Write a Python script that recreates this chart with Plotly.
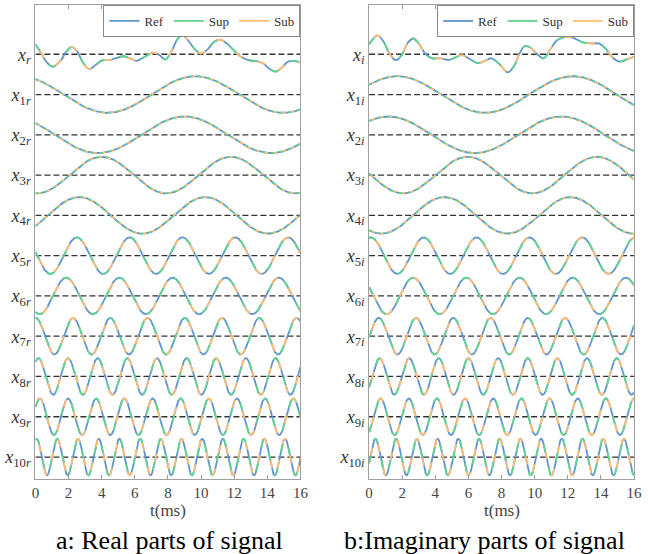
import numpy as np
import plotly.graph_objects as go

# ---------------- data ----------------
# composite real part x_r (time in ms, value in component-amplitude units)
t_xr = [0.0, 0.36, 0.66, 1.05, 1.55, 1.85, 2.2, 2.54, 2.84, 3.24, 3.63, 4.03, 4.43, 4.82,
        5.32, 5.72, 6.11, 6.61, 7.1, 7.5, 7.84, 8.2, 8.6, 8.89, 9.29, 9.68, 9.98, 10.38,
        10.78, 11.17, 11.57, 11.97, 12.36, 12.86, 13.36, 13.75, 14.15, 14.5, 14.84, 15.24,
        15.64, 16.0]
v_xr = [0.54, 0.04, -0.41, -0.68, -0.32, 0.13, 0.40, 0.13, -0.41, -0.81, -0.59, -0.34,
        -0.32, -0.23, -0.11, -0.23, -0.36, -0.14, 0.09, -0.05, -0.29, 0.13, 0.85, 1.03,
        0.67, 0.22, 0.04, 0.25, 0.67, 0.79, 0.58, 0.22, -0.11, -0.32, -0.38, -0.50, -0.81,
        -0.95, -0.77, -0.41, -0.36, -0.45]
# composite imaginary part x_i
t_xi = [0.0, 0.5, 0.85, 1.25, 1.6, 1.94, 2.34, 2.67, 3.03, 3.42, 3.82, 4.31, 4.81, 5.2,
        5.6, 6.09, 6.59, 7.08, 7.38, 7.87, 8.37, 8.76, 9.06, 9.4, 9.75, 10.15, 10.54,
        10.94, 11.34, 11.83, 12.33, 12.82, 13.42, 13.91, 14.31, 14.7, 15.1, 15.6, 16.0]
v_xi = [0.54, 1.03, 0.72, 0.0, -0.32, -0.09, 0.63, 0.86, 0.54, 0.0, -0.22, -0.22, -0.31,
        -0.18, -0.05, -0.27, -0.49, -0.32, -0.22, -0.54, -0.99, -0.63, 0.0, 0.45, 0.36,
        0.0, -0.22, 0.27, 0.76, 0.94, 0.90, 0.68, 0.59, 0.58, 0.27, -0.18, -0.40, -0.27,
        -0.14]
# sinusoidal components x_1 .. x_10 : period (ms) and time of the real-part peak (ms)
periods = [10.6, 10.45, 7.8, 7.6, 3.19, 3.21, 2.25, 1.79, 1.70, 1.25]
peak_times = [9.65, 9.0, 4.0, 2.65, 2.5, 1.86, 0.02, 0.18, 0.27, 0.07]

real_labels = ["<i>x</i><sub><i>r</i></sub>"] + \
    ["<i>x</i><sub>%d<i>r</i></sub>" % k for k in range(1, 11)]
imag_labels = ["<i>x</i><sub><i>i</i></sub>"] + \
    ["<i>x</i><sub>%d<i>i</i></sub>" % k for k in range(1, 11)]
x_ticks = [0, 2, 4, 6, 8, 10, 12, 14, 16]
series_names = ["Ref", "Sup", "Sub"]
series_colors = ["#5f95cf", "#62d48c", "#ffbd72"]
captions = ["a: Real parts of signal", "b:Imaginary parts of signal"]

# ---------------- figure ----------------
D = 2.2          # vertical spacing between rows
fig = go.Figure()
t_grid = np.linspace(0, 16, 1201)

for p in range(2):
    xa = "x" if p == 0 else "x2"
    ya = "y" if p == 0 else "y2"
    for r in range(11):
        off = -r * D
        fig.add_trace(go.Scatter(x=[0, 16], y=[off, off], mode="lines", xaxis=xa, yaxis=ya,
                                 line=dict(color="#333333", width=1.3, dash="6px,3px"),
                                 showlegend=False, hoverinfo="skip"))
        if r == 0:
            tx = t_xr if p == 0 else t_xi
            vy = v_xr if p == 0 else v_xi
            xs = np.array(tx)
            ys = np.array(vy) + off
            shape = "spline"
        else:
            P = periods[r - 1]
            t0 = peak_times[r - 1]
            ph = 2 * np.pi * (t_grid - t0) / P
            xs = t_grid
            ys = (np.cos(ph) if p == 0 else np.sin(ph)) + off
            shape = "linear"
        L = 3 if 1 <= r <= 4 else 8
        dashes = ["solid", "%dpx,%dpx" % (L, 2 * L), "0px,%dpx,%dpx,%dpx" % (L, L, L)]
        for s in range(3):
            fig.add_trace(go.Scatter(x=xs, y=ys, mode="lines", xaxis=xa, yaxis=ya,
                                     line=dict(color=series_colors[s], width=1.8,
                                               dash=dashes[s], shape=shape),
                                     showlegend=False, hoverinfo="skip"))
    for s in range(3):
        fig.add_trace(go.Scatter(x=[None], y=[None], mode="lines", xaxis=xa, yaxis=ya,
                                 name=series_names[s],
                                 line=dict(color=series_colors[s], width=1.8),
                                 legend="legend" if p == 0 else "legend2"))

tick_font = dict(family="Liberation Serif", size=15, color="#444444")
yvals = [-r * D for r in range(11)]
common_x = dict(range=[0, 16], tickvals=x_ticks, ticks="inside", ticklen=4,
                tickcolor="#999999", showline=True, linecolor="#a0a0a0", linewidth=1,
                mirror="ticks", showgrid=False, zeroline=False, tickfont=tick_font)
common_y = dict(range=[-23.2, 2.69], tickvals=yvals, ticks="", showline=True,
                linecolor="#a0a0a0", linewidth=1, mirror=True, showgrid=False,
                zeroline=False, tickfont=dict(family="Liberation Serif", size=18,
                                              color="#333333"))
ydom = [1 - 479 / 554, 1 - 5 / 554]
leg = dict(orientation="h", xanchor="right", yanchor="top", y=ydom[1],
           bgcolor="white", bordercolor="#888888", borderwidth=1,
           font=dict(family="Liberation Serif", size=13, color="#333333"),
           itemwidth=30, tracegroupgap=0)

fig.update_layout(
    width=648, height=554, margin=dict(l=0, r=0, t=0, b=0),
    paper_bgcolor="white", plot_bgcolor="white",
    xaxis=dict(domain=[32 / 648, 302 / 648], anchor="y", **common_x),
    yaxis=dict(domain=ydom, anchor="x", ticktext=real_labels, **common_y),
    xaxis2=dict(domain=[372 / 648, 642 / 648], anchor="y2", **common_x),
    yaxis2=dict(domain=ydom, anchor="x2", ticktext=imag_labels, **common_y),
    legend=dict(x=302 / 648, **leg),
    legend2=dict(x=642 / 648, **leg),
    annotations=[
        dict(text="t(ms)", x=167 / 648, y=1 - 510 / 554, xref="paper", yref="paper",
             xanchor="center", yanchor="middle", showarrow=False,
             font=dict(family="Liberation Serif", size=17, color="#444444")),
        dict(text="t(ms)", x=507 / 648, y=1 - 510 / 554, xref="paper", yref="paper",
             xanchor="center", yanchor="middle", showarrow=False,
             font=dict(family="Liberation Serif", size=17, color="#444444")),
        dict(text=captions[0], x=169 / 648, y=1 - 540 / 554, xref="paper", yref="paper",
             xanchor="center", yanchor="middle", showarrow=False,
             font=dict(family="Liberation Serif", size=26, color="black")),
        dict(text=captions[1], x=490 / 648, y=1 - 540 / 554, xref="paper", yref="paper",
             xanchor="center", yanchor="middle", showarrow=False,
             font=dict(family="Liberation Serif", size=26, color="black")),
    ],
)

fig.write_html("out.html", config={"displayModeBar": False},
               post_script="document.body.style.margin='0px';")
